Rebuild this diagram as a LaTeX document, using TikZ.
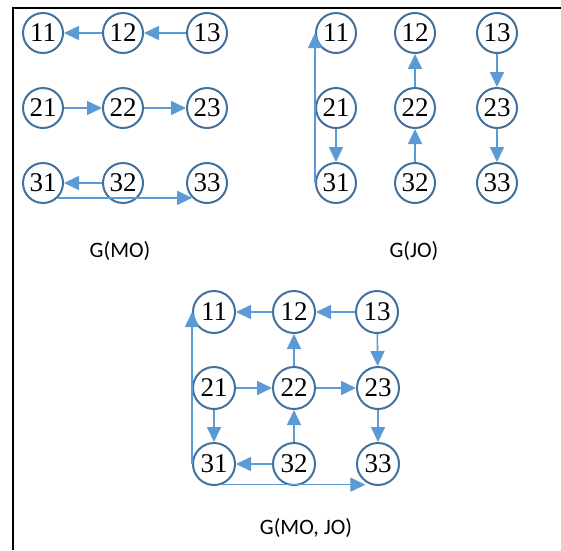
\documentclass[tikz,border=0pt]{standalone}
\usepackage{fontspec}
\setmainfont{Liberation Serif}
\newfontfamily\capfont{Carlito}
\usetikzlibrary{arrows.meta,calc}
\definecolor{ringblue}{HTML}{41719C}
\definecolor{edgeblue}{HTML}{5B9BD5}
\begin{document}
\begin{tikzpicture}[x=1pt,y=-1pt,
  vtx/.style={circle,draw=ringblue,line width=2pt,fill=white,minimum size=40pt,
    inner sep=0pt,font=\fontsize{27}{27}\selectfont},
  vtxb/.style={vtx,minimum size=42pt},
  arc/.style={draw=edgeblue,line width=1.6pt,-{Triangle[length=15pt,width=14pt]}},
  graphtitle/.style={font=\capfont\fontsize{22}{24}\selectfont}]
\useasboundingbox (0,0) rectangle (561,550);
% frame
\draw[line width=1.5pt] (13,550) -- (13,8) -- (561,8);

% ---- G(MO) ----
\node[vtx] (m11) at (43,33) {11};
\node[vtx] (m12) at (123,33) {12};
\node[vtx] (m13) at (207,33) {13};
\node[vtx] (m21) at (43,108) {21};
\node[vtx] (m22) at (123,108) {22};
\node[vtx] (m23) at (207,108) {23};
\node[vtx] (m31) at (43,183) {31};
\node[vtx] (m32) at (123,183) {32};
\node[vtx] (m33) at (207,183) {33};
\draw[arc] (m12) -- (m11);
\draw[arc] (m13) -- (m12);
\draw[arc] (m21) -- (m22);
\draw[arc] (m22) -- (m23);
\draw[arc] (m32) -- (m31);
\draw[arc] (m31.-45) -- (m33.-135);
\node[graphtitle] (capmo) at (120,251) {G(MO)};

% ---- G(JO) ----
\node[vtx] (j11) at (336,33) {11};
\node[vtx] (j12) at (415,33) {12};
\node[vtx] (j13) at (497,33) {13};
\node[vtx] (j21) at (336,108) {21};
\node[vtx] (j22) at (415,108) {22};
\node[vtx] (j23) at (497,108) {23};
\node[vtx] (j31) at (336,183) {31};
\node[vtx] (j32) at (415,183) {32};
\node[vtx] (j33) at (497,183) {33};
\draw[arc] (j31.west) -- (j11.west);
\draw[arc] (j21) -- (j31);
\draw[arc] (j22) -- (j12);
\draw[arc] (j32) -- (j22);
\draw[arc] (j13) -- (j23);
\draw[arc] (j23) -- (j33);
\node[graphtitle] (capjo) at (414,251) {G(JO)};

% ---- G(MO, JO) ----
\node[vtxb] (c11) at (214,312) {11};
\node[vtxb] (c12) at (294,312) {12};
\node[vtxb] (c13) at (377,312) {13};
\node[vtxb] (c21) at (214,388) {21};
\node[vtxb] (c22) at (294,388) {22};
\node[vtxb] (c23) at (378,388) {23};
\node[vtxb] (c31) at (214,464) {31};
\node[vtxb] (c32) at (294,464) {32};
\node[vtxb] (c33) at (378,464) {33};
\draw[arc] (c12) -- (c11);
\draw[arc] (c13) -- (c12);
\draw[arc] (c21) -- (c22);
\draw[arc] (c22) -- (c23);
\draw[arc] (c22) -- (c12);
\draw[arc] (c32) -- (c22);
\draw[arc] (c13) -- (c23);
\draw[arc] (c23) -- (c33);
\draw[arc] (c21) -- (c31);
\draw[arc] (c32) -- (c31);
\draw[arc] (c31.west) -- (c11.west);
\draw[arc] (c31.-70) -- (c31.-70 -| c33.-125);
\node[graphtitle] (capmojo) at (306,528) {G(MO, JO)};
\end{tikzpicture}
\end{document}
